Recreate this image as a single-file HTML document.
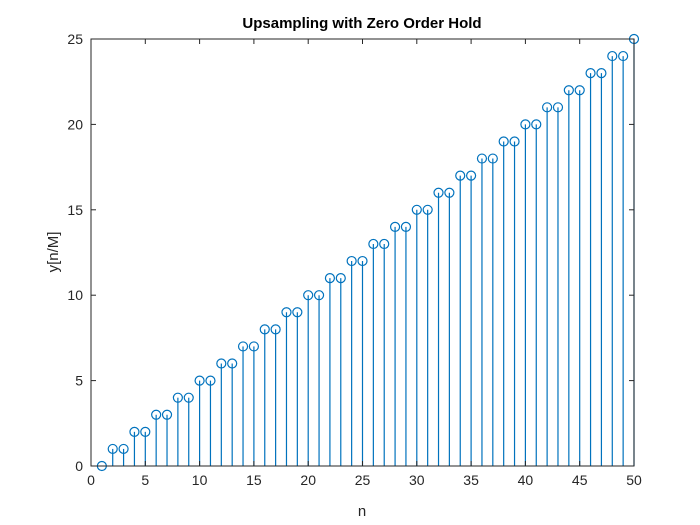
<!DOCTYPE html>
<html><head><meta charset="utf-8"><style>
html,body{margin:0;padding:0;background:#fff;}
svg{display:block;font-family:"Liberation Sans",Arial,sans-serif;}
</style></head><body>
<svg id="chart" width="700" height="525" viewBox="0 0 700 525">
<rect x="0" y="0" width="700" height="525" fill="#fff"/>
<text x="362" y="28" text-anchor="middle" font-size="15" font-weight="bold" fill="#000">Upsampling with Zero Order Hold</text>
<text x="362" y="516" text-anchor="middle" font-size="15" fill="#262626">n</text>
<text x="0" y="0" transform="translate(58,252) rotate(-90)" text-anchor="middle" font-size="15" fill="#262626">y[n/M]</text>
<g id="marks"></g>
<g id="axes"></g>
</svg>
<script>
const nVals = [1,2,3,4,5,6,7,8,9,10,11,12,13,14,15,16,17,18,19,20,21,22,23,24,25,26,27,28,29,30,31,32,33,34,35,36,37,38,39,40,41,42,43,44,45,46,47,48,49,50];
const yVals = [0,1,1,2,2,3,3,4,4,5,5,6,6,7,7,8,8,9,9,10,10,11,11,12,12,13,13,14,14,15,15,16,16,17,17,18,18,19,19,20,20,21,21,22,22,23,23,24,24,25];
const xTicks = [0,5,10,15,20,25,30,35,40,45,50];
const yTicks = [0,5,10,15,20,25];

const L=91,R=634,T=39,B=466;
const xMin=0,xMax=50,yMin=0,yMax=25;
const sx=v=>L+(v-xMin)/(xMax-xMin)*(R-L);
const sy=v=>B-(v-yMin)/(yMax-yMin)*(B-T);
const NS="http://www.w3.org/2000/svg";
function mk(tag,attrs,parent){const e=document.createElementNS(NS,tag);for(const k in attrs)e.setAttribute(k,attrs[k]);parent.appendChild(e);return e;}
const marks=document.getElementById('marks');
const axes=document.getElementById('axes');
const col="#0072BD";
for(let i=0;i<nVals.length;i++){
  const x=sx(nVals[i]),y=sy(yVals[i]);
  const ln=mk('line',{x1:x,y1:sy(0),x2:x,y2:y,stroke:col,'stroke-width':1.2},marks);
  
  
  const c=mk('circle',{cx:x,cy:y,r:4.5,fill:'none',stroke:col,'stroke-width':1.2},marks);
  
  
}
const box=mk('rect',{x:L,y:T,width:R-L,height:B-T,fill:'none',stroke:'#262626','stroke-width':1},axes);


for(const t of xTicks){
  const x=sx(t);
  const a=mk('line',{x1:x,y1:B,x2:x,y2:B-5,stroke:'#262626'},axes);
  
  
  const b=mk('line',{x1:x,y1:T,x2:x,y2:T+5,stroke:'#262626'},axes);
  
  
  const tx=mk('text',{x:x,y:B+19,'text-anchor':'middle','font-size':14,fill:'#262626'},axes);
  tx.textContent=t;
  
  
}
for(const t of yTicks){
  const y=sy(t);
  const a=mk('line',{x1:L,y1:y,x2:L+5,y2:y,stroke:'#262626'},axes);
  
  
  const b=mk('line',{x1:R,y1:y,x2:R-5,y2:y,stroke:'#262626'},axes);
  
  
  const tx=mk('text',{x:L-8,y:y+5,'text-anchor':'end','font-size':14,fill:'#262626'},axes);
  tx.textContent=t;
  
  
}
</script>
</body></html>
